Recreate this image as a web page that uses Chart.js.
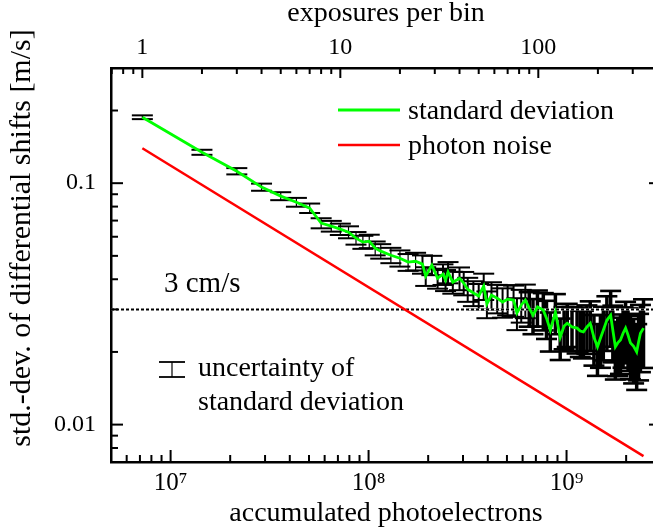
<!DOCTYPE html>
<html>
<head>
<meta charset="utf-8">
<script src="https://cdn.jsdelivr.net/npm/chart.js@4.4.0/dist/chart.umd.min.js"></script>
<style>
  html, body { margin: 0; padding: 0; background: #fff; overflow: hidden; }
  /* the plot frame runs a few pixels past the right edge of the picture */
  #wrap { width: 653px; height: 531px; overflow: hidden; }
  #chart { display: block; }
</style>
</head>
<body>
<div id="wrap"><canvas id="chart" width="661" height="531"></canvas></div>
<script>
// values
const electronsPerExposure = 7.2e6;   // 1 exposure on top axis = this many photoelectrons
const xMin = 5e6, xMax = 3e9;        // accumulated photoelectrons
const yMin = 0.007, yMax = 0.3;      // m/s

const exposures = [1, 2, 3, 4, 5, 6, 7, 8, 9, 10, 11, 12, 13, 14, 15, 16,
  18, 20, 22, 24, 26, 27, 29, 31, 33, 34, 35, 37, 40, 42, 44, 47, 50, 53, 55, 58,
  62, 66, 70, 75, 78, 82, 86, 90, 94, 99,
  106, 110, 115, 122, 129, 135, 140, 148, 157, 163, 169, 176, 183, 191, 199, 206,
  213, 222, 232, 238, 245, 252, 260, 268, 276, 284, 292, 303, 314, 321, 328, 340];

const stdDev = [0.1876, 0.1343, 0.1121, 0.0963, 0.0884, 0.0834, 0.0788, 0.0683, 0.0664, 0.0645,
  0.0627, 0.0592, 0.0570, 0.0575, 0.0538, 0.0523,
  0.0503, 0.0489, 0.0471, 0.0475, 0.0462, 0.0412, 0.0458, 0.0404, 0.0420, 0.0397, 0.0428, 0.0389,
  0.0404, 0.0386, 0.0364, 0.0351, 0.0341, 0.0375, 0.0316, 0.0344,
  0.0334, 0.0322, 0.0331, 0.0328, 0.0290, 0.0313, 0.0328, 0.0304, 0.0284, 0.0307,
  0.0298, 0.0276, 0.0246, 0.0292, 0.0230, 0.0256, 0.0263, 0.0254, 0.0251, 0.0244, 0.0242, 0.0254,
  0.0263, 0.0230, 0.0210, 0.0228,
  0.0246, 0.0271, 0.0284, 0.0246, 0.0210, 0.0218, 0.0224, 0.0239, 0.0251, 0.0235, 0.0218, 0.0211,
  0.0200, 0.0220, 0.0239, 0.0251];

// relative size of the error bars (uncertainty of the std.-dev.)
const stdDevRelErr = [0.018, 0.024, 0.030, 0.034, 0.038, 0.042, 0.045, 0.048, 0.051, 0.054,
  0.057, 0.060, 0.062, 0.064, 0.066, 0.069,
  0.073, 0.077, 0.080, 0.084, 0.087, 0.089, 0.092, 0.095, 0.098, 0.100, 0.101, 0.104,
  0.108, 0.111, 0.114, 0.118, 0.121, 0.125, 0.127, 0.130,
  0.135, 0.139, 0.143, 0.148, 0.151, 0.155, 0.159, 0.163, 0.166, 0.170,
  0.176, 0.180, 0.184, 0.189, 0.195, 0.199, 0.203, 0.208, 0.215, 0.219, 0.223, 0.227,
  0.232, 0.237, 0.242, 0.246,
  0.250, 0.255, 0.260, 0.264, 0.268, 0.272, 0.276, 0.280, 0.285, 0.289, 0.293, 0.298,
  0.304, 0.307, 0.310, 0.316];

// photon noise is a straight line in log-log, its two end points
const photonExposures = [1, 340];
const photonNoise = [0.1395, 0.0074];

const targetLevel = 0.03; // 3 cm/s

const serif = '"Liberation Serif", "Times New Roman", serif';
const green = '#00ff00';
const red = '#ff0000';

// --- build the point lists ---
const sdPoints = exposures.map((k, i) => ({ x: k * electronsPerExposure, y: stdDev[i] }));
const photonPoints = photonExposures.map((k, i) => ({ x: k * electronsPerExposure, y: photonNoise[i] }));
const capPoints = [];
const barPoints = [];
exposures.forEach((k, i) => {
  const x = k * electronsPerExposure;
  const hi = stdDev[i] * (1 + stdDevRelErr[i]);
  const lo = stdDev[i] * (1 - stdDevRelErr[i]);
  capPoints.push({ x, y: hi }, { x, y: lo });
  barPoints.push({ x, y: lo }, { x, y: hi }, { x, y: null });
});
const levelPoints = [{ x: xMin, y: targetLevel }, { x: xMax, y: targetLevel }];

// in the original the bars get so dense on the right that they merge into a black band;
// thicker strokes there stand in for that
function barWidth(x) {
  const k = x / electronsPerExposure;
  if (k < 25) return 1.2;
  if (k < 90) return 2;
  return 3.5;
}
function capWidth(x) {
  return x / electronsPerExposure < 90 ? 2 : 2.6;
}

const isDecade = v => Math.abs(Math.log10(v) - Math.round(Math.log10(v))) < 1e-6;
const sup = '⁰¹²³⁴⁵⁶⁷⁸⁹';

function logTickValues(min, max) {
  const vals = [];
  for (let e = Math.floor(Math.log10(min)); e <= Math.ceil(Math.log10(max)); e++) {
    for (let m = 1; m <= 9; m++) {
      const v = m * Math.pow(10, e);
      if (v >= min * 0.999 && v <= max * 1.001) vals.push({ v, major: m === 1 });
    }
  }
  return vals;
}

function line(ctx, x1, y1, x2, y2) {
  ctx.beginPath();
  ctx.moveTo(x1, y1);
  ctx.lineTo(x2, y2);
  ctx.stroke();
}

// inward tick marks on all four sides, legend and text labels
const decorations = {
  id: 'decorations',
  afterDraw(chart) {
    const { ctx, chartArea: a, scales } = chart;
    ctx.save();
    ctx.strokeStyle = '#000';
    ctx.lineWidth = 2;

    logTickValues(scales.x.min, scales.x.max).forEach(t => {
      const px = scales.x.getPixelForValue(t.v);
      line(ctx, px, a.bottom, px, a.bottom - (t.major ? 12 : 7));
    });
    logTickValues(scales.x2.min, scales.x2.max).forEach(t => {
      const px = scales.x2.getPixelForValue(t.v);
      line(ctx, px, a.top, px, a.top + (t.major ? 10 : 6));
    });
    logTickValues(scales.y.min, scales.y.max).forEach(t => {
      const py = scales.y.getPixelForValue(t.v);
      const len = t.major ? 12 : 7;
      line(ctx, a.left, py, a.left + len, py);
      line(ctx, a.right, py, a.right - len, py);
    });

    ctx.fillStyle = '#000';
    ctx.textBaseline = 'alphabetic';

    // axis titles
    const midX = (a.left + a.right) / 2;
    ctx.textAlign = 'center';
    ctx.font = '28px ' + serif;
    ctx.fillText('exposures per bin', midX, 21);
    ctx.fillText('accumulated photoelectrons', midX, 521);
    ctx.save();
    ctx.font = '30px ' + serif;
    ctx.translate(30, 238);
    ctx.rotate(-Math.PI / 2);
    ctx.fillText('std.-dev. of differential shifts [m/s]', 0, 0);
    ctx.restore();

    // legend
    ctx.font = '28px ' + serif;
    ctx.textAlign = 'left';
    ctx.lineWidth = 2.8;
    ctx.strokeStyle = green;
    line(ctx, 338, 110, 400, 110);
    ctx.lineWidth = 2.5;
    ctx.strokeStyle = red;
    line(ctx, 338, 145, 400, 145);
    ctx.fillText('standard deviation', 408, 119);
    ctx.fillText('photon noise', 408, 154);

    // annotations
    ctx.font = '29px ' + serif;
    ctx.fillText('3 cm/s', 164, 292);
    ctx.font = '28px ' + serif;
    ctx.strokeStyle = '#000';
    ctx.lineWidth = 1.8;
    line(ctx, 159, 362, 185, 362);
    line(ctx, 159, 377, 185, 377);
    ctx.lineWidth = 1.2;
    line(ctx, 172, 362, 172, 377);
    ctx.fillText('uncertainty of', 198, 376);
    ctx.fillText('standard deviation', 198, 410);

    ctx.restore();
  }
};

const tickFont = { family: serif, size: 24 };

function fixHorizontal(h) {
  return s => {
    s.height = h;
    s.paddingLeft = 0;
    s.paddingRight = 0;
  };
}

new Chart(document.getElementById('chart'), {
  type: 'scatter',
  data: {
    datasets: [
      {
        label: 'photon noise',
        data: photonPoints,
        showLine: true,
        borderColor: red,
        borderWidth: 2.5,
        pointRadius: 0,
        order: 0
      },
      {
        label: 'standard deviation',
        data: sdPoints,
        showLine: true,
        borderColor: green,
        borderWidth: 2.8,
        pointRadius: 0,
        order: 1
      },
      {
        label: '3 cm/s',
        data: levelPoints,
        showLine: true,
        borderColor: '#000',
        borderWidth: 2,
        borderDash: [3, 2],
        pointRadius: 0,
        order: 2
      },
      {
        label: '3 cm/s background',
        data: levelPoints,
        showLine: true,
        borderColor: '#fff',
        borderWidth: 2,
        pointRadius: 0,
        order: 3
      },
      {
        label: 'error caps',
        data: capPoints,
        pointStyle: 'line',
        pointRadius: 10.5,
        pointBorderWidth: c => capWidth(c.raw.x),
        pointBorderColor: '#000',
        pointBackgroundColor: '#000',
        order: 4
      },
      {
        label: 'error bars',
        data: barPoints,
        showLine: true,
        spanGaps: false,
        borderColor: '#000',
        borderWidth: 1.2,
        segment: { borderWidth: c => barWidth(c.p0.parsed.x) },
        pointRadius: 0,
        order: 5
      }
    ]
  },
  options: {
    responsive: false,
    animation: false,
    events: [],
    layout: { autoPadding: false, padding: 0 },
    plugins: { legend: { display: false }, tooltip: { enabled: false } },
    scales: {
      x: {
        type: 'logarithmic',
        position: 'bottom',
        min: xMin,
        max: xMax,
        grid: { display: false, drawTicks: false },
        border: { display: true, color: '#000', width: 2.5 },
        ticks: {
          autoSkip: false, maxRotation: 0, padding: 6, color: '#000', font: { family: serif, size: 25 },
          callback: v => isDecade(v) ? '10' + sup[Math.round(Math.log10(v))] : ''
        },
        afterFit: fixHorizontal(69)
      },
      x2: {
        type: 'logarithmic',
        position: 'top',
        min: xMin / electronsPerExposure,
        max: xMax / electronsPerExposure,
        grid: { display: false, drawTicks: false },
        border: { display: true, color: '#000', width: 2.5 },
        ticks: {
          autoSkip: false, maxRotation: 0, padding: 6, color: '#000', font: tickFont,
          callback: v => isDecade(v) ? String(Math.round(v)) : ''
        },
        afterFit: fixHorizontal(68)
      },
      y: {
        type: 'logarithmic',
        position: 'left',
        min: yMin,
        max: yMax,
        grid: { display: false, drawTicks: false },
        border: { display: true, color: '#000', width: 2.5 },
        ticks: {
          autoSkip: false, padding: 15, color: '#000', font: tickFont,
          callback: v => isDecade(v) ? String(Number(v.toPrecision(1))) : ''
        },
        afterFit: s => { s.width = 111; s.paddingTop = 0; s.paddingBottom = 0; }
      }
    }
  },
  plugins: [decorations]
});
</script>
</body>
</html>
